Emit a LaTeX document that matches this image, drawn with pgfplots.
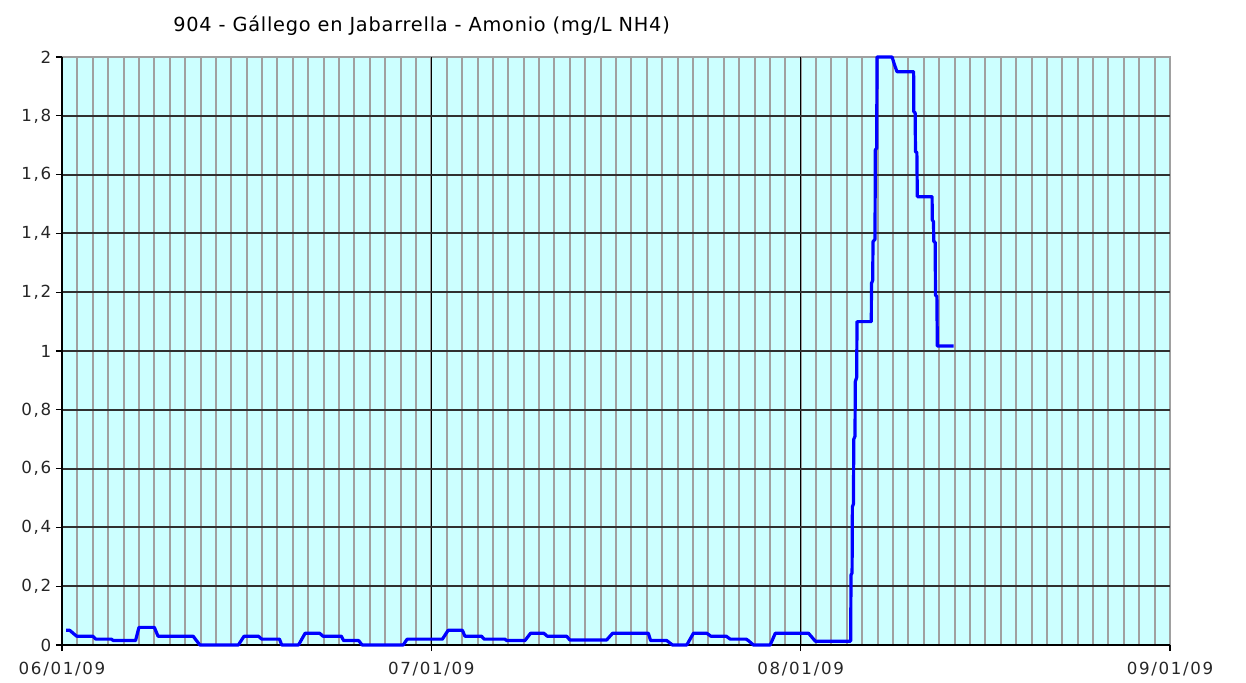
\documentclass[border=0pt]{standalone}
\usepackage{fontspec}
\usepackage{pgfplots}
\pgfplotsset{compat=1.18}
\usetikzlibrary{calc}
\setmainfont{DejaVu Sans}
\newfontfamily\lfont[LetterSpace=10]{DejaVu Sans}
\newfontfamily\tfont[LetterSpace=4]{DejaVu Sans}
\definecolor{bg}{HTML}{CCFFFF}
\definecolor{minorgrid}{HTML}{A0A0A0}
\definecolor{majorgrid}{HTML}{303030}
\definecolor{serie}{HTML}{0000FF}

% hours since 06/01/09 00:00 -> ammonium (mg/L NH4)
\pgfplotstableread{
h v
0.26 0.05
0.50 0.05
0.95 0.03
2.00 0.03
2.20 0.02
3.20 0.02
3.35 0.015
4.78 0.015
5.00 0.06
6.00 0.06
6.24 0.03
8.52 0.03
8.96 0.0
11.46 0.0
11.83 0.03
12.76 0.03
12.98 0.02
14.13 0.02
14.28 0.0
15.37 0.0
15.80 0.04
16.74 0.04
16.96 0.03
18.15 0.03
18.30 0.015
19.28 0.015
19.50 0.0
22.17 0.0
22.43 0.02
24.72 0.02
25.09 0.05
26.02 0.05
26.18 0.03
27.26 0.03
27.43 0.02
28.78 0.02
28.90 0.015
30.08 0.015
30.45 0.04
31.31 0.04
31.53 0.03
32.79 0.03
33.00 0.017
35.39 0.017
35.78 0.04
38.10 0.04
38.25 0.015
39.30 0.015
39.67 0.0
40.60 0.0
41.03 0.04
41.90 0.04
42.16 0.03
43.16 0.03
43.42 0.02
44.46 0.02
44.60 0.015
44.93 0.0
46.02 0.0
46.35 0.04
48.51 0.04
48.95 0.013
51.25 0.013
51.27 0.238
51.34 0.245
51.36 0.47
51.43 0.48
51.45 0.70
51.53 0.71
51.55 0.896
51.64 0.91
51.66 1.10
52.59 1.10
52.60 1.23
52.68 1.24
52.70 1.372
52.83 1.38
52.85 1.684
52.94 1.69
52.96 2.00
53.94 2.00
54.10 1.973
54.26 1.95
55.34 1.95
55.35 1.814
55.44 1.81
55.46 1.678
55.55 1.675
55.58 1.525
56.54 1.525
56.55 1.446
56.63 1.44
56.65 1.372
56.74 1.37
56.76 1.19
56.85 1.185
56.88 1.017
57.94 1.017
}\amonio

\begin{document}
\begin{tikzpicture}
\begin{axis}[
    name=ax,
    scale only axis,
    width=831pt, height=441pt,
    xmin=0, xmax=72, ymin=0, ymax=2,
    clip=false,
    axis lines*=left,
    axis line style={black, line width=0.9pt},
    axis background/.style={fill=bg, draw=minorgrid, line width=0.9pt},
    xtick={0,24,48},
    xticklabels={06/01/09,07/01/09,08/01/09},
    minor xtick={1,...,71},
    ytick={0,0.2,...,1.81},
    yticklabels={0,{0,2},{0,4},{0,6},{0,8},1,{1,2},{1,4},{1,6},{1,8}},
    extra x ticks={72}, extra x tick labels={09/01/09},
    extra y ticks={2}, extra y tick labels={2},
    extra tick style={grid=none},
    xmajorgrids, xminorgrids, ymajorgrids,
    major x grid style={black, line width=0.9pt},
    minor x grid style={minorgrid, line width=1.5pt},
    major y grid style={majorgrid, line width=1.4pt},
    tick align=outside,
    major tick length=4.5pt,
    minor tick length=0pt,
    tick style={black, line width=0.9pt},
    tick label style={font=\lfont\fontsize{12.5}{14}\selectfont, text=black!85},
    xticklabel style={yshift=-5pt},
    title={904 - Gállego en Jabarrella - Amonio (mg/L NH4)},
    title style={at={(0.3245,1)}, anchor=base, yshift=13pt,
      font=\tfont\fontsize{14.5}{17}\selectfont, inner sep=0pt},
  ]
\addplot[serie, line width=2.4pt, line join=round] table[x=h, y=v] {\amonio};
\end{axis}
\path ($(ax.south west)+(-46.5pt,-27.75pt)$) rectangle ($(ax.north east)+(57pt,42.75pt)$);
\end{tikzpicture}
\end{document}
